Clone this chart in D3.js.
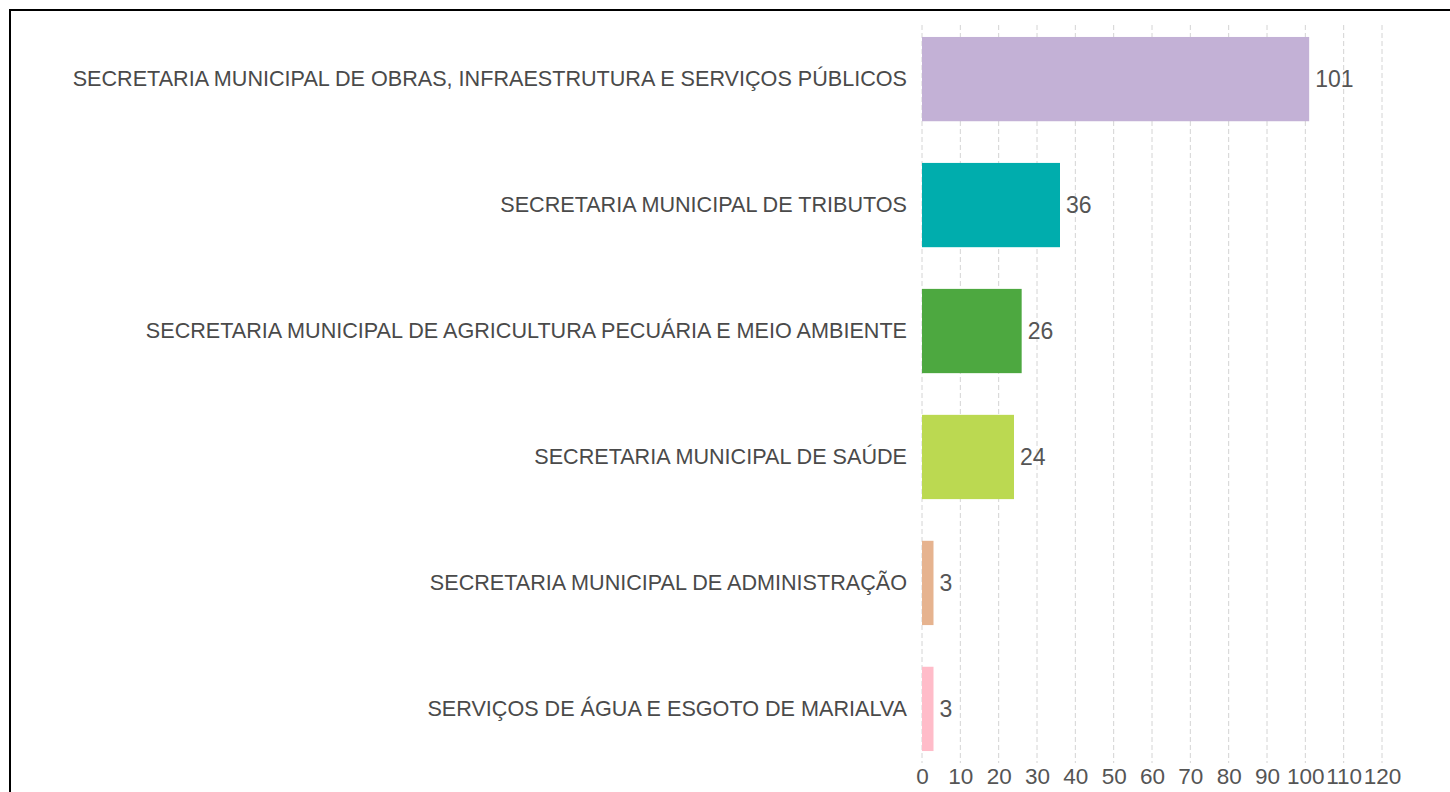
<!DOCTYPE html>
<html><head><meta charset="utf-8">
<script src="https://cdn.jsdelivr.net/npm/d3@7"></script>
<style>body{margin:0;background:#fff;} svg{display:block;}</style>
</head><body>
<script>
const categories = [
  "SECRETARIA MUNICIPAL DE OBRAS, INFRAESTRUTURA E SERVIÇOS PÚBLICOS",
  "SECRETARIA MUNICIPAL DE TRIBUTOS",
  "SECRETARIA MUNICIPAL DE AGRICULTURA PECUÁRIA E MEIO AMBIENTE",
  "SECRETARIA MUNICIPAL DE SAÚDE",
  "SECRETARIA MUNICIPAL DE ADMINISTRAÇÃO",
  "SERVIÇOS DE ÁGUA E ESGOTO DE MARIALVA"
];
const values = [101, 36, 26, 24, 3, 3];
const colors = ["#C3B1D6", "#00ADAD", "#4DA840", "#BBD951", "#E6B38F", "#FFBCC9"];
const ticks = [0,10,20,30,40,50,60,70,80,90,100,110,120];

const W = 1450, H = 792;
const svg = d3.select("body").append("svg").attr("width", W).attr("height", H);
svg.append("rect").attr("x",0).attr("y",0).attr("width",W).attr("height",H).attr("fill","#fff");
// frame
svg.append("rect").attr("x",10).attr("y",10).attr("width",W+20).attr("height",H+20)
  .attr("fill","none").attr("stroke","#000").attr("stroke-width",2);

const x = d3.scaleLinear().domain([0,120]).range([922,1382]);
const y = d3.scaleBand().domain(categories).range([25,763]).paddingInner(0.331).paddingOuter(0.095);

const font = "Arial, 'Liberation Sans', sans-serif";
// gridlines
svg.append("g").selectAll("line").data(ticks).join("line")
  .attr("x1",d=>x(d)).attr("x2",d=>x(d)).attr("y1",25).attr("y2",763)
  .attr("stroke","#d4d4d4").attr("stroke-width",1).attr("stroke-dasharray","5,3");

// bars
svg.append("g").selectAll("rect").data(values).join("rect")
  .attr("x",x(0)).attr("y",(d,i)=>y(categories[i]))
  .attr("width",d=>x(d)-x(0)).attr("height",y.bandwidth())
  .attr("fill",(d,i)=>colors[i]);

// value labels
svg.append("g").selectAll("text").data(values).join("text")
  .attr("x",d=>x(d)+6).attr("y",(d,i)=>y(categories[i])+y.bandwidth()/2)
  .attr("dy","0.35em").attr("font-family",font).attr("font-size",23).attr("fill","#555")
  .text(d=>d);

// category labels
const yAxis = d3.axisLeft(y).tickSize(0).tickPadding(0);
const gy = svg.append("g").attr("transform","translate(907,0)").call(yAxis);
gy.select(".domain").remove();
gy.selectAll("text").attr("font-family",font).attr("font-size",21.6).attr("fill","#4a4a4a");

// x axis
const xAxis = d3.axisBottom(x).tickValues(ticks).tickSize(0).tickPadding(0);
const gx = svg.append("g").attr("transform","translate(0,768)").call(xAxis);
gx.select(".domain").remove();
gx.selectAll("text").attr("font-family",font).attr("font-size",22.5).attr("fill","#555");
</script>
</body></html>
